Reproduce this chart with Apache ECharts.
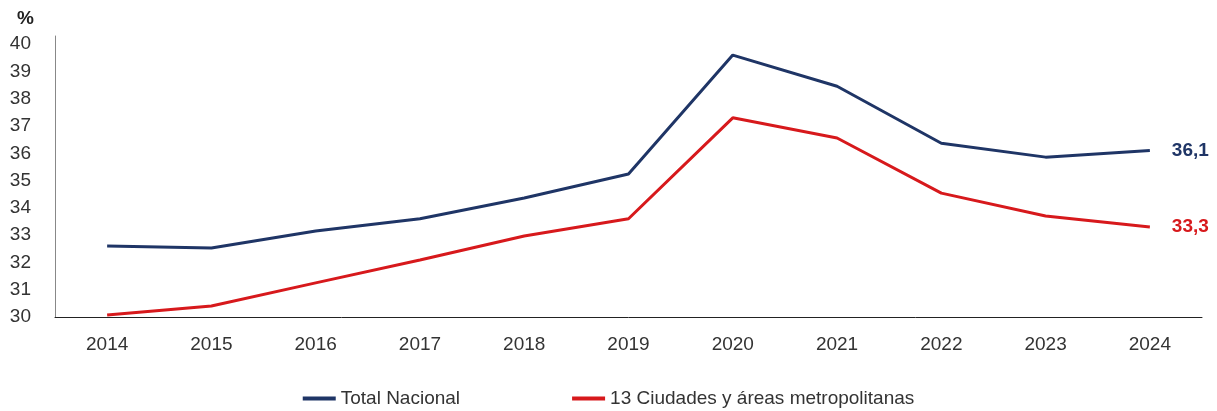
<!DOCTYPE html>
<html><head><meta charset="utf-8">
<script src="https://cdn.jsdelivr.net/npm/echarts@6/dist/echarts.min.js"></script>
<style>html,body{margin:0;padding:0;background:#fff}#c{width:1217px;height:411px}</style>
</head><body><div id="c"></div>
<script>
const years = ['2014','2015','2016','2017','2018','2019','2020','2021','2022','2023','2024'];
const totalNacional = [32.6, 32.53, 33.15, 33.6, 34.36, 35.24, 39.6, 38.46, 36.37, 35.86, 36.1];
const ciudades13 = [30.07, 30.4, 31.25, 32.09, 32.97, 33.6, 37.3, 36.56, 34.54, 33.7, 33.3];
const seriesNames = ['Total Nacional', '13 Ciudades y áreas metropolitanas'];
const colors = ['#1f3566', '#d7191c'];
const FONT = '"Liberation Sans Narrow", "Arial Narrow", "Liberation Sans", Arial, sans-serif';

function endLabel(color){
  return {
    show: true, distance: 22,
    color: color, fontWeight: 'bold', fontSize: 19, fontFamily: FONT,
    formatter: p => Number(p.value).toFixed(1).replace('.', ',')
  };
}
const chart = echarts.init(document.getElementById('c'), null, {renderer:'canvas'});
chart.setOption({
  animation: false,
  textStyle: {fontFamily: FONT},
  title: {text: '%', left: 12, top: 4, textStyle: {fontSize: 19, fontWeight: 'bold', color: '#222', fontFamily: FONT}},
  grid: {left: 55, right: 15, top: 36, bottom: 94},
  legend: {
    top: 384, left: 'center', itemGap: 112, itemWidth: 33, itemHeight: 4,
    icon: 'rect',
    textStyle: {fontSize: 19, color: '#333', fontFamily: FONT},
    data: seriesNames
  },
  xAxis: {
    type: 'category', data: years, boundaryGap: true,
    axisLine: {lineStyle: {color: '#222', width: 1}},
    axisTick: {show: false},
    axisLabel: {fontSize: 19, color: '#333', margin: 18, fontFamily: FONT}
  },
  yAxis: {
    type: 'value', min: 30, max: 40.3, interval: 1,
    axisLine: {show: true, lineStyle: {color: '#888', width: 1}},
    axisTick: {show: false},
    splitLine: {show: false},
    axisLabel: {fontSize: 19, color: '#333', margin: 24, fontFamily: FONT,
      formatter: v => Math.abs(v - Math.round(v)) < 1e-6 ? String(Math.round(v)) : ''}
  },
  series: [
    {name: seriesNames[0], type: 'line', data: totalNacional, symbol: 'none',
     lineStyle: {color: colors[0], width: 3}, itemStyle: {color: colors[0]}, endLabel: endLabel(colors[0])},
    {name: seriesNames[1], type: 'line', data: ciudades13, symbol: 'none',
     lineStyle: {color: colors[1], width: 3}, itemStyle: {color: colors[1]}, endLabel: endLabel(colors[1])}
  ]
});
</script></body></html>
